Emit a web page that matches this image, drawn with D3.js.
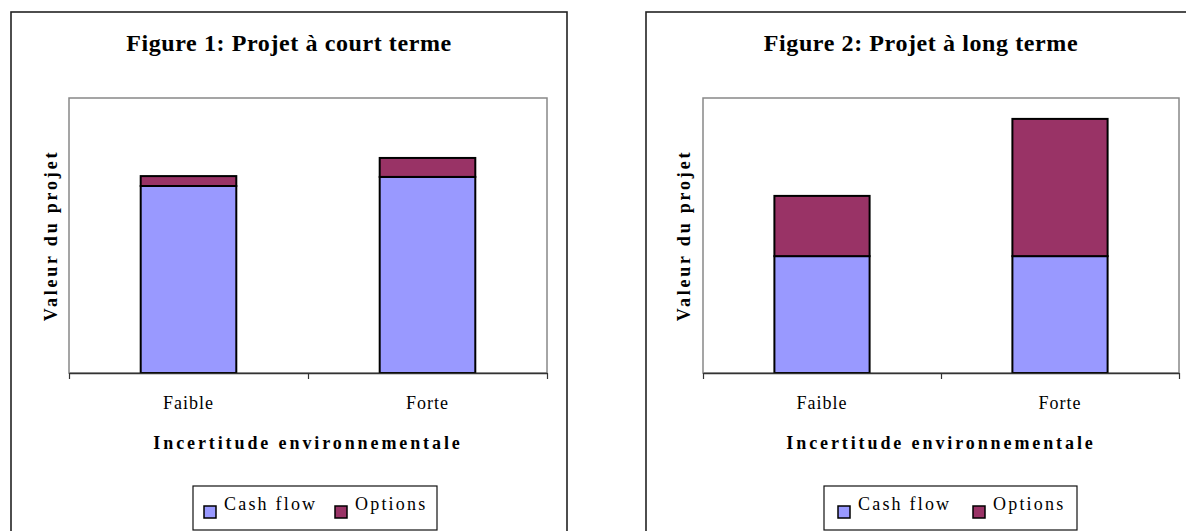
<!DOCTYPE html>
<html>
<head>
<meta charset="utf-8">
<script src="https://cdn.jsdelivr.net/npm/d3@7"></script>
<style>
  html, body { margin: 0; padding: 0; background: #fff; }
  svg { display: block; }
</style>
</head>
<body>
<svg id="chart" width="1186" height="531"></svg>
<script>
// ---- data ----
const categories = ["Faible", "Forte"];
const seriesNames = ["Cash flow", "Options"];
const seriesColors = ["#9999FF", "#993366"];
const titles = ["Figure 1: Projet à court terme", "Figure 2: Projet à long terme"];
const yAxisTitle = "Valeur du projet";
const xAxisTitle = "Incertitude environnementale";
// Figure 1 (short term)
const fig1CashFlow = [68.0, 71.3];
const fig1Options  = [3.6, 6.9];
// Figure 2 (long term)
const fig2CashFlow = [42.5, 42.5];
const fig2Options  = [21.9, 49.9];
const yDomain = [0, 100];

// ---- layout ----
const panels = [
  { box: {x: 11, y: 12, w: 556, h: 540}, plot: {x0: 69, x1: 547, y0: 98, y1: 373},
    title: titles[0], titleX: 289, cash: fig1CashFlow, opts: fig1Options, ylabX: 57,
    legend: {x: 193, y: 486, w: 244, h: 44, items: [11, 142]} },
  { box: {x: 646, y: 12, w: 560, h: 540}, plot: {x0: 703, x1: 1179, y0: 98, y1: 373},
    title: titles[1], titleX: 921, cash: fig2CashFlow, opts: fig2Options, ylabX: 690,
    legend: {x: 824, y: 486, w: 253, h: 44, items: [14, 149]} }
];

const svg = d3.select("#chart");
const serif = "'Liberation Serif', 'Times New Roman', serif";

panels.forEach(p => {
  const g = svg.append("g");
  // outer frame
  g.append("rect")
    .attr("x", p.box.x).attr("y", p.box.y)
    .attr("width", p.box.w).attr("height", p.box.h)
    .attr("fill", "#fff").attr("stroke", "#222").attr("stroke-width", 1.6);

  // title
  g.append("text")
    .attr("x", p.titleX)
    .attr("y", 51)
    .attr("text-anchor", "middle")
    .attr("font-family", serif).attr("font-weight", "bold")
    .attr("font-size", 24).attr("letter-spacing", 0.6)
    .text(p.title);

  const x = d3.scaleBand().domain(categories)
    .range([p.plot.x0, p.plot.x1]).paddingInner(0.6).paddingOuter(0.3);
  const y = d3.scaleLinear().domain(yDomain).range([p.plot.y1, p.plot.y0]);

  // plot area border (gray)
  g.append("rect")
    .attr("x", p.plot.x0).attr("y", p.plot.y0)
    .attr("width", p.plot.x1 - p.plot.x0).attr("height", p.plot.y1 - p.plot.y0)
    .attr("fill", "#fff").attr("stroke", "#888").attr("stroke-width", 1.5);

  // stacked data
  const rows = categories.map((c, i) => ({cat: c, "Cash flow": p.cash[i], "Options": p.opts[i]}));
  const stacked = d3.stack().keys(seriesNames)(rows);

  stacked.forEach((layer, li) => {
    g.append("g").selectAll("rect").data(layer).join("rect")
      .attr("x", d => x(d.data.cat))
      .attr("width", x.bandwidth())
      .attr("y", d => y(d[1]))
      .attr("height", d => y(d[0]) - y(d[1]))
      .attr("fill", seriesColors[li])
      .attr("stroke", "#000").attr("stroke-width", 2);
  });

  // x axis with tick marks at category boundaries
  const ax = d3.scaleLinear().domain([0, categories.length]).range([p.plot.x0, p.plot.x1]);
  const axisG = g.append("g").attr("transform", `translate(0,${p.plot.y1})`)
    .call(d3.axisBottom(ax).tickValues(d3.range(categories.length + 1)).tickSize(6).tickSizeOuter(0).tickFormat(""));
  axisG.select(".domain").attr("stroke", "#333").attr("stroke-width", 1.5);
  axisG.selectAll(".tick line").attr("stroke", "#333").attr("stroke-width", 1.2);

  // category labels
  g.append("g").selectAll("text").data(categories).join("text")
    .attr("x", d => x(d) + x.bandwidth() / 2)
    .attr("y", 409)
    .attr("text-anchor", "middle")
    .attr("font-family", serif).attr("font-size", 18).attr("letter-spacing", 1.0)
    .text(d => d);

  // x axis title
  g.append("text")
    .attr("x", (p.plot.x0 + p.plot.x1) / 2).attr("y", 449)
    .attr("text-anchor", "middle")
    .attr("font-family", serif).attr("font-weight", "bold")
    .attr("font-size", 18).attr("letter-spacing", 2.9)
    .text(xAxisTitle);

  // y axis title
  g.append("text")
    .attr("transform", `translate(${p.ylabX},${(p.plot.y0 + p.plot.y1) / 2}) rotate(-90)`)
    .attr("text-anchor", "middle")
    .attr("font-family", serif).attr("font-weight", "bold")
    .attr("font-size", 18).attr("letter-spacing", 2.8)
    .text(yAxisTitle);

  // legend
  const L = p.legend;
  g.append("rect").attr("x", L.x).attr("y", L.y).attr("width", L.w).attr("height", L.h)
    .attr("fill", "#fff").attr("stroke", "#111").attr("stroke-width", 1.2);
  seriesNames.forEach((s, i) => {
    const sx = L.x + L.items[i];
    g.append("rect").attr("x", sx).attr("y", L.y + 20).attr("width", 12).attr("height", 12)
      .attr("fill", seriesColors[i]).attr("stroke", "#000").attr("stroke-width", 1.5);
    g.append("text").attr("x", sx + 20).attr("y", L.y + 24)
      .attr("font-family", serif).attr("font-size", 18).attr("letter-spacing", 2.2)
      .text(s);
  });
});
</script>
</body>
</html>
